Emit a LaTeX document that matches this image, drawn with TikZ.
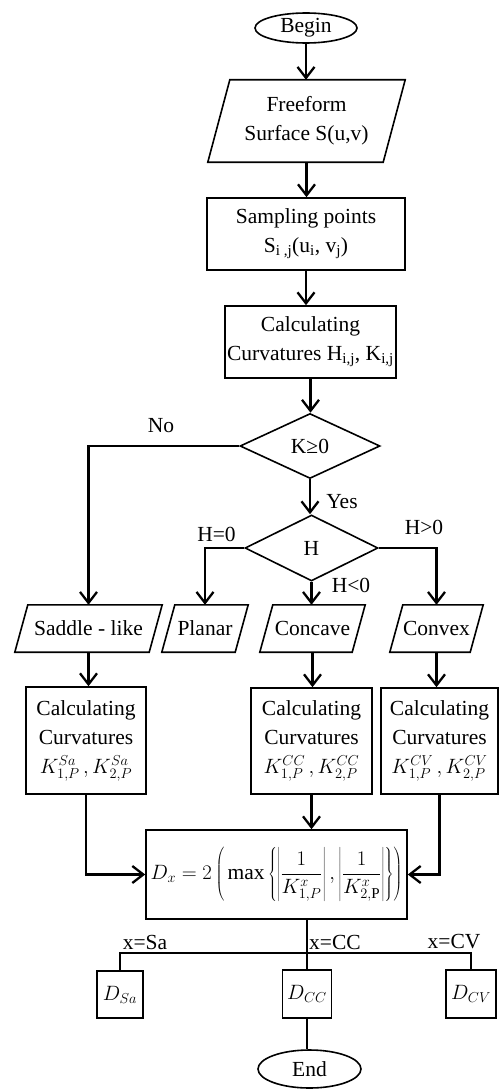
\documentclass[tikz,border=0pt]{standalone}
\usepackage{fontspec}
\setmainfont{Liberation Serif}
\usetikzlibrary{arrows.meta,shapes.geometric,calc}
\tikzset{
 base/.style={font=\fontsize{21.5}{29}\selectfont, inner sep=0pt, align=center},
 box/.style={base, draw, line width=1.6pt, rectangle},
 term/.style={base, draw, line width=1.6pt, ellipse},
 dec/.style={base, draw, line width=1.6pt, diamond},
 io/.style={base, rectangle},
 flow/.style={line width=2.3pt, -{Straight Barb[length=11pt,width=17pt]}},
 plain/.style={line width=1.8pt},
 lab/.style={base},
}
\newcommand\drawio[2]{\draw[line width=1.6pt] (#1.south west) -- ([xshift=#2]#1.north west) -- (#1.north east) -- ([xshift=-#2]#1.south east) -- cycle;}
\begin{document}
\begin{tikzpicture}[x=1pt,y=-1pt]
\useasboundingbox (0,0) rectangle (499,1089);
% nodes
\node[term, minimum width=102pt, minimum height=30pt] (begin) at (306,28) {Begin};
\node[io, minimum width=197pt, minimum height=82pt] (free) at (306.5,121) {Freeform\\Surface S(u,v)};
\drawio{free}{22pt}
\node[box, minimum width=198pt, minimum height=72pt] (samp) at (306,234) {Sampling points\\S\textsubscript{i ,j}(u\textsubscript{i}, v\textsubscript{j})};
\node[box, minimum width=171pt, minimum height=72pt] (calc) at (310.5,342) {Calculating\\Curvatures H\textsubscript{i,j}, K\textsubscript{i,j}};
\node[dec, minimum width=140pt, minimum height=65pt] (kdec) at (310,446) {K≥0};
\node[dec, minimum width=133pt, minimum height=66pt] (hdec) at (311.5,548) {H};
\node[io, minimum width=147pt, minimum height=47pt] (saddle) at (88.5,628.5) {Saddle - like};
\drawio{saddle}{13pt}
\node[io, minimum width=86pt, minimum height=47pt] (planar) at (205,628.5) {Planar};
\drawio{planar}{13pt}
\node[io, minimum width=105pt, minimum height=47pt] (concave) at (312.5,628.5) {Concave};
\drawio{concave}{13pt}
\node[io, minimum width=93pt, minimum height=47pt] (convex) at (436.5,628.5) {Convex};
\drawio{convex}{13pt}
\node[box, minimum width=120pt, minimum height=107pt] (csa) at (86,740.5) {Calculating\\Curvatures\\$K^{Sa}_{1,P}\,,K^{Sa}_{2,P}$};
\node[box, minimum width=121pt, minimum height=106pt] (ccc) at (311.5,741) {Calculating\\Curvatures\\$K^{CC}_{1,P}\,,K^{CC}_{2,P}$};
\node[box, minimum width=117pt, minimum height=106pt] (ccv) at (439.5,741) {Calculating\\Curvatures\\$K^{CV}_{1,P}\,,K^{CV}_{2,P}$};
\node[box, minimum width=261pt, minimum height=89pt] (form) at (276.5,874.5) {$\displaystyle D_x = 2\left(\,\max\left\{\left|\frac{1}{K^{x}_{1,P}}\right|,\left|\frac{1}{K^{x}_{2,\mathrm{P}}}\right|\right\}\right)$};
\node[box, minimum width=46pt, minimum height=47pt] (dsa) at (120,994.5) {$D_{Sa}$};
\node[box, minimum width=49pt, minimum height=48pt] (dcc) at (307,994) {$D_{CC}$};
\node[box, minimum width=50pt, minimum height=48pt] (dcv) at (471,994) {$D_{CV}$};
\node[term, minimum width=103pt, minimum height=38pt] (end) at (309.5,1069) {End};
% labels
\node[lab] (lno) at (161,426) {No};
\node[lab] (lyes) at (342,502) {Yes};
\node[lab] (lh0) at (216.5,534) {H=0};
\node[lab] (lhp) at (424,527) {H>0};
\node[lab] (lhn) at (351,585) {H<0};
\node[lab] (lxsa) at (145,942) {x=Sa};
\node[lab] (lxcc) at (335,942) {x=CC};
\node[lab] (lxcv) at (454,942) {x=CV};
% connectors
\draw[flow] (begin.south) -- (begin.south |- free.north);
\draw[flow] (free.south) -- (free.south |- samp.north);
\draw[flow] (samp.south) -- (samp.south |- calc.north);
\draw[flow] (calc.south) -- (calc.south |- kdec.north);
\draw[flow] (kdec.south) -- (kdec.south |- hdec.north);
\draw[flow] (kdec.west) -| (saddle.north);
\draw[flow] (hdec.west) -| (planar.north);
\draw[flow] (hdec.east) -| (convex.north);
\draw[flow] (hdec.south) -- (hdec.south |- concave.north);
\draw[flow] (saddle.south) -- (saddle.south |- csa.north);
\draw[flow] (concave.south) -- (concave.south |- ccc.north);
\draw[flow] (convex.south) -- (convex.south |- ccv.north);
\draw[flow] (ccc.south) -- (ccc.south |- form.north);
\draw[flow] (csa.south) |- (form.west);
\draw[flow] (ccv.south) |- (form.east);
\coordinate (busl) at (dsa.north |- 0,953);
\coordinate (busr) at (dcv.north |- 0,953);
\draw[plain] (dcc.north |- form.south) -- (dcc.north);
\draw[plain] (dsa.north) -- (busl) -- (busr) -- (dcv.north);
\draw[plain] (dcc.south) -- (dcc.south |- end.north);
\end{tikzpicture}
\end{document}
